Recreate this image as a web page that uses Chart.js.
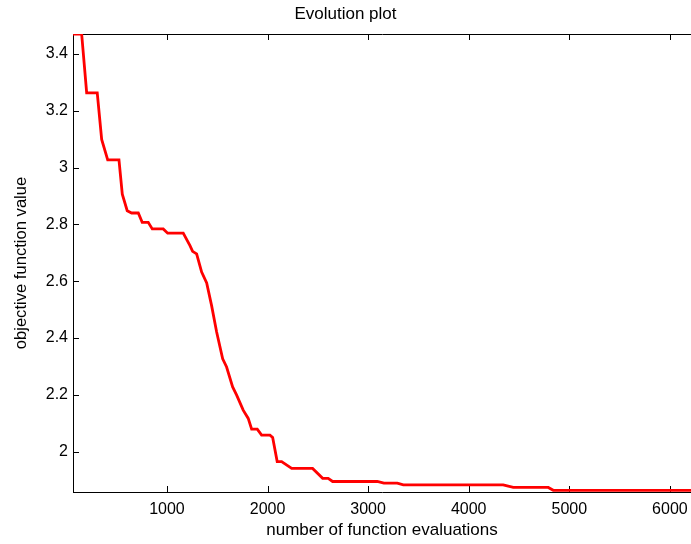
<!DOCTYPE html>
<html>
<head>
<meta charset="utf-8">
<title>Evolution plot</title>
<script src="https://cdn.jsdelivr.net/npm/chart.js@4.4.1/dist/chart.umd.min.js"></script>
<style>
  html, body { margin: 0; padding: 0; background: #fff; overflow: hidden; }
  canvas { display: block; }
</style>
</head>
<body>
<canvas id="evo" width="691" height="544"></canvas>
<script>
// number of function evaluations / best objective value
const evals = [66, 152, 202, 307, 351, 411, 523, 556, 605, 649,
  715, 754, 814, 854, 963, 1007, 1162, 1229, 1255, 1295,
  1345, 1395, 1444, 1494, 1554, 1593, 1653, 1693, 1758, 1808,
  1842, 1898, 1941, 2024, 2051, 2096, 2140, 2240, 2448, 2548,
  2603, 2647, 3091, 3157, 3290, 3350, 4343, 4443, 4791, 4841, 6210];
const objective = [3.47, 3.47, 3.263, 3.263, 3.099, 3.027, 3.027, 2.906, 2.848, 2.840,
  2.840, 2.807, 2.807, 2.784, 2.784, 2.769, 2.769, 2.725, 2.705, 2.696,
  2.632, 2.594, 2.514, 2.421, 2.327, 2.298, 2.228, 2.199, 2.146, 2.117,
  2.079, 2.079, 2.058, 2.058, 2.050, 1.965, 1.965, 1.941, 1.941, 1.906,
  1.906, 1.895, 1.895, 1.889, 1.889, 1.883, 1.883, 1.874, 1.874, 1.864, 1.864];

const xTicks = [1000, 2000, 3000, 4000, 5000, 6000];
const yTicks = [2, 2.2, 2.4, 2.6, 2.8, 3, 3.2, 3.4];
const xRange = [66, 6210];
const yRange = [1.858, 3.47];

const FONT = "'Liberation Sans', Arial, Helvetica, sans-serif";

// matlab-ish box: top/left/bottom lines + inward ticks, drawn under the line
const frame = {
  id: "frame",
  beforeDatasetsDraw(chart) {
    const { ctx, chartArea: a, scales: { x, y } } = chart;
    const L = 6;
    ctx.save();
    ctx.strokeStyle = "#000";
    ctx.lineWidth = 1;
    ctx.beginPath();
    ctx.moveTo(a.left + 0.5, a.top);
    ctx.lineTo(a.left + 0.5, a.bottom + 0.5);
    ctx.moveTo(a.left, a.top + 0.5);
    ctx.lineTo(a.right + 1, a.top + 0.5);
    ctx.moveTo(a.left, a.bottom + 0.5);
    ctx.lineTo(a.right + 1, a.bottom + 0.5);
    xTicks.forEach(v => {
      const px = Math.round(x.getPixelForValue(v)) + 0.5;
      ctx.moveTo(px, a.top);
      ctx.lineTo(px, a.top + L);
      ctx.moveTo(px, a.bottom);
      ctx.lineTo(px, a.bottom - L);
    });
    yTicks.forEach(v => {
      const py = Math.round(y.getPixelForValue(v)) + 0.5;
      ctx.moveTo(a.left, py);
      ctx.lineTo(a.left + L, py);
    });
    ctx.stroke();
    ctx.restore();
  }
};

const fixTicks = (vals) => (scale) => { scale.ticks = vals.map(v => ({ value: v })); };

new Chart(document.querySelector("#evo"), {
  type: "line",
  data: {
    datasets: [{
      data: evals.map((e, i) => ({ x: e, y: objective[i] })),
      borderColor: "#ff0000",
      borderWidth: 2.8,
      pointRadius: 0,
      tension: 0,
      fill: false
    }]
  },
  options: {
    responsive: false,
    animation: false,
    layout: { padding: 0 },
    plugins: {
      legend: { display: false },
      tooltip: { enabled: false },
      title: {
        display: true,
        text: "Evolution plot",
        color: "#000",
        font: { family: FONT, size: 17, weight: "normal", lineHeight: 1.2 },
        padding: { top: 4, bottom: 9.6 }
      }
    },
    scales: {
      x: {
        type: "linear",
        min: xRange[0],
        max: xRange[1],
        afterBuildTicks: fixTicks(xTicks),
        afterFit: (s) => { s.height = 52; s.paddingLeft = 0; s.paddingRight = 0; },
        grid: { display: false, drawTicks: false },
        border: { display: false },
        ticks: {
          color: "#000",
          padding: 8,
          maxRotation: 0,
          autoSkip: false,
          font: { family: FONT, size: 16 },
          callback: (v) => String(v)
        },
        title: {
          display: true,
          text: "number of function evaluations",
          color: "#000",
          font: { family: FONT, size: 17, lineHeight: 1.2 },
          padding: { top: 0, bottom: 3 }
        }
      },
      y: {
        type: "linear",
        min: yRange[0],
        max: yRange[1],
        afterBuildTicks: fixTicks(yTicks),
        afterFit: (s) => { s.width = 73; s.paddingTop = 0; s.paddingBottom = 0; },
        grid: { display: false, drawTicks: false },
        border: { display: false },
        ticks: {
          color: "#000",
          padding: 5,
          autoSkip: false,
          font: { family: FONT, size: 16 },
          callback: (v) => String(Math.round(v * 10) / 10)
        },
        title: {
          display: true,
          text: "objective function value",
          color: "#000",
          font: { family: FONT, size: 16.6, lineHeight: 1.2 },
          padding: { top: 11, bottom: 0 }
        }
      }
    }
  },
  plugins: [frame]
});
</script>
</body>
</html>
